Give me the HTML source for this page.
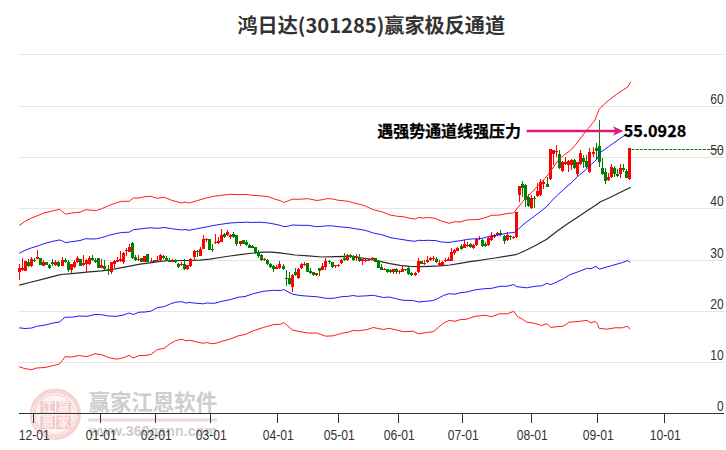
<!DOCTYPE html>
<html lang="zh-CN"><head><meta charset="utf-8"><title>鸿日达(301285)赢家极反通道</title>
<style>
html,body{margin:0;padding:0;background:#fff;}
body{width:726px;height:450px;overflow:hidden;font-family:"Liberation Sans","Noto Sans CJK SC",sans-serif;}
svg{display:block}
.ax{font-family:"Liberation Sans",sans-serif;font-size:14px;fill:#333}
.ttl{font-family:"Noto Sans CJK SC","Liberation Sans",sans-serif;font-weight:bold;font-size:20px;fill:#333}
.ann{font-family:"Noto Sans CJK SC","Liberation Sans",sans-serif;font-weight:bold;font-size:16px;fill:#000;stroke:#000;stroke-width:0.25px}
</style></head><body>
<svg width="726" height="450" viewBox="0 0 726 450">
<rect width="726" height="450" fill="#fff"/>
<text class="ttl" x="237.4" y="33.3" textLength="267.7" lengthAdjust="spacingAndGlyphs">鸿日达(301285)赢家极反通道</text>
<line x1="18" x2="724" y1="54.5" y2="54.5" stroke="#e6e6e6" stroke-width="1" shape-rendering="crispEdges"/>
<line x1="18" x2="724" y1="106.5" y2="106.5" stroke="#e6e6e6" stroke-width="1" shape-rendering="crispEdges"/>
<line x1="18" x2="724" y1="157.5" y2="157.5" stroke="#e6e6e6" stroke-width="1" shape-rendering="crispEdges"/>
<line x1="18" x2="724" y1="208.5" y2="208.5" stroke="#e6e6e6" stroke-width="1" shape-rendering="crispEdges"/>
<line x1="18" x2="724" y1="260.5" y2="260.5" stroke="#e6e6e6" stroke-width="1" shape-rendering="crispEdges"/>
<line x1="18" x2="724" y1="311.5" y2="311.5" stroke="#e6e6e6" stroke-width="1" shape-rendering="crispEdges"/>
<line x1="18" x2="724" y1="362.5" y2="362.5" stroke="#e6e6e6" stroke-width="1" shape-rendering="crispEdges"/>
<g id="wm">
<circle cx="55.3" cy="414.2" r="25.5" fill="#fdf4f4"/>
<circle cx="55.3" cy="414.2" r="24.6" fill="none" stroke="#f4cdcd" stroke-width="1.8"/>
<circle cx="55.6" cy="414" r="22.2" fill="none" stroke="#f6d5d5" stroke-width="2.2"/>
<circle cx="55" cy="414.4" r="19.6" fill="none" stroke="#f8dddd" stroke-width="1.4"/>
<rect x="40.3" y="401.3" width="14.7" height="12" fill="#f4c9c9"/><rect x="56.3" y="401.3" width="14.7" height="12" fill="#f4c9c9"/>
<rect x="40.3" y="415.6" width="14.7" height="13.4" fill="#f4c9c9"/><rect x="56.3" y="415.6" width="14.7" height="13.4" fill="#f4c9c9"/>
<g font-family="'Noto Sans CJK SC',sans-serif" font-weight="bold" font-size="12" fill="#fdf0f0" text-anchor="middle">
<text x="47.7" y="412.2">江</text><text x="63.7" y="412.2">赢</text><text x="47.7" y="427.2">恩</text><text x="63.7" y="427.2">家</text></g>
</g>
<text x="88.5" y="409.6" font-family="'Noto Sans CJK SC',sans-serif" font-weight="bold" font-size="21.4" fill="#d0cccc" textLength="128.6" lengthAdjust="spacingAndGlyphs">赢家江恩软件</text>
<rect x="88" y="418.3" width="129" height="3.2" fill="#ecdcdc"/>
<text x="89" y="435.6" font-family="'Liberation Sans',sans-serif" font-weight="bold" font-size="14" fill="#cccccc" textLength="128" lengthAdjust="spacing">www.360gann.com</text>
<line x1="19" x2="724" y1="413.5" y2="413.5" stroke="#333" stroke-width="1" shape-rendering="crispEdges"/>
<line x1="33.5" x2="33.5" y1="413" y2="423" stroke="#333" stroke-width="1" shape-rendering="crispEdges"/>
<text class="ax" x="18.8" y="440.3" textLength="31" lengthAdjust="spacingAndGlyphs">12-01</text>
<line x1="100.5" x2="100.5" y1="413" y2="423" stroke="#333" stroke-width="1" shape-rendering="crispEdges"/>
<text class="ax" x="85.8" y="440.3" textLength="31" lengthAdjust="spacingAndGlyphs">01-01</text>
<line x1="155.5" x2="155.5" y1="413" y2="423" stroke="#333" stroke-width="1" shape-rendering="crispEdges"/>
<text class="ax" x="140.8" y="440.3" textLength="31" lengthAdjust="spacingAndGlyphs">02-01</text>
<line x1="210.5" x2="210.5" y1="413" y2="423" stroke="#333" stroke-width="1" shape-rendering="crispEdges"/>
<text class="ax" x="195.8" y="440.3" textLength="31" lengthAdjust="spacingAndGlyphs">03-01</text>
<line x1="277.5" x2="277.5" y1="413" y2="423" stroke="#333" stroke-width="1" shape-rendering="crispEdges"/>
<text class="ax" x="262.8" y="440.3" textLength="31" lengthAdjust="spacingAndGlyphs">04-01</text>
<line x1="338.5" x2="338.5" y1="413" y2="423" stroke="#333" stroke-width="1" shape-rendering="crispEdges"/>
<text class="ax" x="323.8" y="440.3" textLength="31" lengthAdjust="spacingAndGlyphs">05-01</text>
<line x1="398.5" x2="398.5" y1="413" y2="423" stroke="#333" stroke-width="1" shape-rendering="crispEdges"/>
<text class="ax" x="383.8" y="440.3" textLength="31" lengthAdjust="spacingAndGlyphs">06-01</text>
<line x1="462.5" x2="462.5" y1="413" y2="423" stroke="#333" stroke-width="1" shape-rendering="crispEdges"/>
<text class="ax" x="447.8" y="440.3" textLength="31" lengthAdjust="spacingAndGlyphs">07-01</text>
<line x1="531.5" x2="531.5" y1="413" y2="423" stroke="#333" stroke-width="1" shape-rendering="crispEdges"/>
<text class="ax" x="516.8" y="440.3" textLength="31" lengthAdjust="spacingAndGlyphs">08-01</text>
<line x1="597.5" x2="597.5" y1="413" y2="423" stroke="#333" stroke-width="1" shape-rendering="crispEdges"/>
<text class="ax" x="582.8" y="440.3" textLength="31" lengthAdjust="spacingAndGlyphs">09-01</text>
<line x1="664.5" x2="664.5" y1="413" y2="423" stroke="#333" stroke-width="1" shape-rendering="crispEdges"/>
<text class="ax" x="649.8" y="440.3" textLength="31" lengthAdjust="spacingAndGlyphs">10-01</text>
<polyline points="19.2,285.2 31.7,282.0 45.0,278.6 58.3,275.2 61.5,274.5 71.7,273.6 86.7,272.2 101.7,270.8 115.0,268.8 128.3,266.3 140.0,264.2 150.0,262.8 160.0,261.3 170.0,260.5 180.0,260.5 190.0,260.5 200.0,260.2 210.0,259.1 220.0,257.5 230.0,256.0 240.0,254.7 253.3,253.0 263.3,252.2 271.7,252.1 281.7,253.2 295.0,255.0 308.3,255.8 321.7,257.0 335.0,256.7 348.3,256.3 358.3,257.5 370.0,259.2 380.0,261.3 390.0,263.7 400.0,265.3 410.0,266.3 420.0,266.7 430.0,266.3 440.0,265.8 450.0,265.0 460.0,263.3 470.0,261.7 478.0,260.6 485.0,259.5 495.0,258.0 505.0,256.3 515.8,254.7 525.0,250.8 535.0,245.8 546.7,239.2 558.3,230.3 568.3,223.3 578.3,216.7 588.3,210.0 596.0,205.0 600.0,202.0 610.0,197.5 620.0,192.5 630.8,187.2" fill="none" stroke="#2a2a2a" stroke-width="1.2" stroke-linejoin="round"/>
<g shape-rendering="crispEdges">
<rect x="19" y="264" width="1" height="16" fill="#ff0000"/>
<rect x="18" y="268" width="3" height="4" fill="#ff0000"/>
<rect x="22" y="258" width="1" height="13" fill="#ff0000"/>
<rect x="21" y="268" width="3" height="2" fill="#ff0000"/>
<rect x="24" y="261" width="3" height="10" fill="#ff0000"/>
<rect x="28" y="259" width="1" height="8" fill="#008000"/>
<rect x="27" y="262" width="3" height="4" fill="#008000"/>
<rect x="31" y="257" width="1" height="10" fill="#ff0000"/>
<rect x="30" y="259" width="3" height="7" fill="#ff0000"/>
<rect x="34" y="258" width="1" height="4" fill="#008000"/>
<rect x="33" y="260" width="3" height="1" fill="#008000"/>
<rect x="37" y="250" width="1" height="9" fill="#ff0000"/>
<rect x="36" y="257" width="3" height="2" fill="#ff0000"/>
<rect x="39" y="258" width="3" height="7" fill="#008000"/>
<rect x="43" y="260" width="1" height="6" fill="#ff0000"/>
<rect x="42" y="262" width="3" height="4" fill="#ff0000"/>
<rect x="45" y="262" width="3" height="3" fill="#008000"/>
<rect x="49" y="264" width="1" height="5" fill="#008000"/>
<rect x="48" y="265" width="3" height="3" fill="#008000"/>
<rect x="52" y="259" width="1" height="7" fill="#008000"/>
<rect x="51" y="262" width="3" height="2" fill="#008000"/>
<rect x="55" y="260" width="1" height="6" fill="#ff0000"/>
<rect x="54" y="262" width="3" height="3" fill="#ff0000"/>
<rect x="58" y="261" width="1" height="6" fill="#008000"/>
<rect x="57" y="262" width="3" height="4" fill="#008000"/>
<rect x="62" y="257" width="1" height="9" fill="#ff0000"/>
<rect x="61" y="260" width="3" height="6" fill="#ff0000"/>
<rect x="65" y="258" width="1" height="5" fill="#008000"/>
<rect x="64" y="260" width="3" height="2" fill="#008000"/>
<rect x="68" y="260" width="1" height="12" fill="#008000"/>
<rect x="67" y="262" width="3" height="8" fill="#008000"/>
<rect x="71" y="264" width="1" height="10" fill="#ff0000"/>
<rect x="70" y="264" width="3" height="6" fill="#ff0000"/>
<rect x="74" y="260" width="1" height="8" fill="#ff0000"/>
<rect x="73" y="262" width="3" height="5" fill="#ff0000"/>
<rect x="77" y="256" width="1" height="7" fill="#ff0000"/>
<rect x="76" y="258" width="3" height="4" fill="#ff0000"/>
<rect x="79" y="259" width="3" height="7" fill="#008000"/>
<rect x="83" y="255" width="1" height="11" fill="#ff0000"/>
<rect x="82" y="263" width="3" height="2" fill="#ff0000"/>
<rect x="86" y="259" width="1" height="13" fill="#ff0000"/>
<rect x="85" y="260" width="3" height="4" fill="#ff0000"/>
<rect x="89" y="256" width="1" height="9" fill="#ff0000"/>
<rect x="88" y="258" width="3" height="6" fill="#ff0000"/>
<rect x="92" y="255" width="1" height="6" fill="#008000"/>
<rect x="91" y="258" width="3" height="2" fill="#008000"/>
<rect x="95" y="258" width="1" height="5" fill="#008000"/>
<rect x="94" y="260" width="3" height="2" fill="#008000"/>
<rect x="97" y="258" width="3" height="10" fill="#008000"/>
<rect x="101" y="259" width="1" height="9" fill="#ff0000"/>
<rect x="100" y="265" width="3" height="3" fill="#ff0000"/>
<rect x="104" y="260" width="1" height="10" fill="#008000"/>
<rect x="103" y="266" width="3" height="3" fill="#008000"/>
<rect x="108" y="265" width="1" height="10" fill="#008000"/>
<rect x="107" y="269" width="3" height="2" fill="#008000"/>
<rect x="111" y="262" width="1" height="12" fill="#ff0000"/>
<rect x="110" y="262" width="3" height="10" fill="#ff0000"/>
<rect x="114" y="260" width="1" height="8" fill="#ff0000"/>
<rect x="113" y="261" width="3" height="3" fill="#ff0000"/>
<rect x="117" y="257" width="1" height="5" fill="#ff0000"/>
<rect x="116" y="260" width="3" height="2" fill="#ff0000"/>
<rect x="120" y="251" width="1" height="11" fill="#ff0000"/>
<rect x="119" y="259" width="3" height="2" fill="#ff0000"/>
<rect x="123" y="252" width="1" height="12" fill="#ff0000"/>
<rect x="122" y="253" width="3" height="9" fill="#ff0000"/>
<rect x="126" y="248" width="1" height="8" fill="#ff0000"/>
<rect x="125" y="250" width="3" height="1" fill="#ff0000"/>
<rect x="129" y="244" width="1" height="8" fill="#ff0000"/>
<rect x="128" y="247" width="3" height="5" fill="#ff0000"/>
<rect x="132" y="242" width="1" height="17" fill="#008000"/>
<rect x="131" y="243" width="3" height="15" fill="#008000"/>
<rect x="135" y="255" width="1" height="6" fill="#008000"/>
<rect x="134" y="257" width="3" height="3" fill="#008000"/>
<rect x="138" y="255" width="1" height="6" fill="#ff0000"/>
<rect x="137" y="259" width="3" height="1" fill="#ff0000"/>
<rect x="140" y="258" width="3" height="4" fill="#008000"/>
<rect x="143" y="256" width="3" height="6" fill="#ff0000"/>
<rect x="146" y="254" width="3" height="8" fill="#008000"/>
<rect x="151" y="258" width="1" height="5" fill="#ff0000"/>
<rect x="150" y="261" width="3" height="1" fill="#ff0000"/>
<rect x="153" y="260" width="3" height="2" fill="#008000"/>
<rect x="157" y="256" width="1" height="6" fill="#ff0000"/>
<rect x="156" y="260" width="3" height="1" fill="#ff0000"/>
<rect x="160" y="254" width="1" height="7" fill="#ff0000"/>
<rect x="159" y="255" width="3" height="5" fill="#ff0000"/>
<rect x="163" y="255" width="1" height="4" fill="#008000"/>
<rect x="162" y="256" width="3" height="2" fill="#008000"/>
<rect x="166" y="256" width="1" height="5" fill="#008000"/>
<rect x="165" y="258" width="3" height="2" fill="#008000"/>
<rect x="169" y="258" width="1" height="4" fill="#008000"/>
<rect x="168" y="260" width="3" height="2" fill="#008000"/>
<rect x="172" y="259" width="1" height="3" fill="#ff0000"/>
<rect x="171" y="260" width="3" height="2" fill="#ff0000"/>
<rect x="175" y="259" width="1" height="4" fill="#008000"/>
<rect x="174" y="260" width="3" height="2" fill="#008000"/>
<rect x="178" y="263" width="1" height="5" fill="#008000"/>
<rect x="177" y="264" width="3" height="3" fill="#008000"/>
<rect x="181" y="262" width="1" height="4" fill="#ff0000"/>
<rect x="180" y="264" width="3" height="1" fill="#ff0000"/>
<rect x="184" y="259" width="1" height="11" fill="#008000"/>
<rect x="183" y="264" width="3" height="5" fill="#008000"/>
<rect x="187" y="265" width="1" height="5" fill="#ff0000"/>
<rect x="186" y="265" width="3" height="4" fill="#ff0000"/>
<rect x="190" y="258" width="1" height="9" fill="#ff0000"/>
<rect x="189" y="259" width="3" height="7" fill="#ff0000"/>
<rect x="194" y="250" width="1" height="11" fill="#ff0000"/>
<rect x="193" y="251" width="3" height="6" fill="#ff0000"/>
<rect x="197" y="250" width="1" height="7" fill="#008000"/>
<rect x="196" y="251" width="3" height="1" fill="#008000"/>
<rect x="200" y="247" width="1" height="9" fill="#ff0000"/>
<rect x="199" y="249" width="3" height="7" fill="#ff0000"/>
<rect x="203" y="235" width="1" height="14" fill="#ff0000"/>
<rect x="202" y="239" width="3" height="10" fill="#ff0000"/>
<rect x="206" y="238" width="1" height="4" fill="#ff0000"/>
<rect x="205" y="239" width="3" height="1" fill="#ff0000"/>
<rect x="208" y="239" width="3" height="11" fill="#008000"/>
<rect x="212" y="244" width="1" height="8" fill="#008000"/>
<rect x="211" y="249" width="3" height="1" fill="#008000"/>
<rect x="215" y="234" width="1" height="10" fill="#ff0000"/>
<rect x="214" y="242" width="3" height="1" fill="#ff0000"/>
<rect x="218" y="237" width="1" height="7" fill="#ff0000"/>
<rect x="217" y="241" width="3" height="2" fill="#ff0000"/>
<rect x="221" y="229" width="1" height="13" fill="#ff0000"/>
<rect x="220" y="235" width="3" height="7" fill="#ff0000"/>
<rect x="224" y="233" width="1" height="5" fill="#008000"/>
<rect x="223" y="234" width="3" height="3" fill="#008000"/>
<rect x="227" y="230" width="1" height="6" fill="#ff0000"/>
<rect x="226" y="232" width="3" height="3" fill="#ff0000"/>
<rect x="230" y="234" width="1" height="5" fill="#ff0000"/>
<rect x="229" y="235" width="3" height="2" fill="#ff0000"/>
<rect x="233" y="232" width="1" height="6" fill="#008000"/>
<rect x="232" y="234" width="3" height="3" fill="#008000"/>
<rect x="236" y="235" width="1" height="11" fill="#008000"/>
<rect x="235" y="235" width="3" height="9" fill="#008000"/>
<rect x="240" y="241" width="1" height="5" fill="#ff0000"/>
<rect x="239" y="241" width="3" height="3" fill="#ff0000"/>
<rect x="242" y="240" width="3" height="4" fill="#008000"/>
<rect x="246" y="240" width="1" height="6" fill="#008000"/>
<rect x="245" y="242" width="3" height="3" fill="#008000"/>
<rect x="249" y="244" width="1" height="4" fill="#008000"/>
<rect x="248" y="245" width="3" height="3" fill="#008000"/>
<rect x="252" y="245" width="1" height="3" fill="#008000"/>
<rect x="251" y="246" width="3" height="2" fill="#008000"/>
<rect x="255" y="247" width="1" height="7" fill="#008000"/>
<rect x="254" y="247" width="3" height="5" fill="#008000"/>
<rect x="258" y="250" width="1" height="8" fill="#008000"/>
<rect x="257" y="252" width="3" height="4" fill="#008000"/>
<rect x="261" y="254" width="1" height="7" fill="#008000"/>
<rect x="260" y="255" width="3" height="5" fill="#008000"/>
<rect x="264" y="258" width="1" height="3" fill="#ff0000"/>
<rect x="263" y="259" width="3" height="1" fill="#ff0000"/>
<rect x="267" y="259" width="1" height="6" fill="#008000"/>
<rect x="266" y="260" width="3" height="4" fill="#008000"/>
<rect x="270" y="263" width="1" height="5" fill="#008000"/>
<rect x="269" y="264" width="3" height="3" fill="#008000"/>
<rect x="273" y="265" width="1" height="7" fill="#008000"/>
<rect x="272" y="266" width="3" height="3" fill="#008000"/>
<rect x="276" y="265" width="1" height="4" fill="#ff0000"/>
<rect x="275" y="267" width="3" height="2" fill="#ff0000"/>
<rect x="279" y="261" width="1" height="8" fill="#ff0000"/>
<rect x="278" y="264" width="3" height="4" fill="#ff0000"/>
<rect x="283" y="264" width="1" height="6" fill="#008000"/>
<rect x="282" y="266" width="3" height="3" fill="#008000"/>
<rect x="286" y="270" width="1" height="16" fill="#008000"/>
<rect x="285" y="278" width="3" height="1" fill="#008000"/>
<rect x="289" y="272" width="1" height="13" fill="#008000"/>
<rect x="288" y="278" width="3" height="6" fill="#008000"/>
<rect x="292" y="274" width="1" height="18" fill="#ff0000"/>
<rect x="291" y="275" width="3" height="12" fill="#ff0000"/>
<rect x="295" y="268" width="1" height="8" fill="#008000"/>
<rect x="294" y="272" width="3" height="3" fill="#008000"/>
<rect x="298" y="268" width="1" height="11" fill="#ff0000"/>
<rect x="297" y="269" width="3" height="9" fill="#ff0000"/>
<rect x="301" y="263" width="1" height="6" fill="#ff0000"/>
<rect x="300" y="264" width="3" height="4" fill="#ff0000"/>
<rect x="304" y="262" width="1" height="4" fill="#ff0000"/>
<rect x="303" y="264" width="3" height="1" fill="#ff0000"/>
<rect x="306" y="263" width="3" height="9" fill="#008000"/>
<rect x="310" y="268" width="1" height="6" fill="#008000"/>
<rect x="309" y="271" width="3" height="2" fill="#008000"/>
<rect x="313" y="272" width="1" height="4" fill="#008000"/>
<rect x="312" y="272" width="3" height="3" fill="#008000"/>
<rect x="316" y="273" width="1" height="3" fill="#ff0000"/>
<rect x="315" y="273" width="3" height="2" fill="#ff0000"/>
<rect x="319" y="268" width="1" height="8" fill="#008000"/>
<rect x="318" y="268" width="3" height="3" fill="#008000"/>
<rect x="322" y="263" width="1" height="7" fill="#ff0000"/>
<rect x="321" y="266" width="3" height="4" fill="#ff0000"/>
<rect x="325" y="258" width="1" height="12" fill="#ff0000"/>
<rect x="324" y="261" width="3" height="6" fill="#ff0000"/>
<rect x="329" y="260" width="1" height="4" fill="#008000"/>
<rect x="328" y="261" width="3" height="1" fill="#008000"/>
<rect x="332" y="262" width="1" height="6" fill="#008000"/>
<rect x="331" y="262" width="3" height="5" fill="#008000"/>
<rect x="335" y="265" width="1" height="3" fill="#ff0000"/>
<rect x="334" y="265" width="3" height="1" fill="#ff0000"/>
<rect x="338" y="264" width="1" height="3" fill="#ff0000"/>
<rect x="337" y="265" width="3" height="1" fill="#ff0000"/>
<rect x="341" y="259" width="1" height="5" fill="#ff0000"/>
<rect x="340" y="260" width="3" height="3" fill="#ff0000"/>
<rect x="344" y="253" width="1" height="8" fill="#008000"/>
<rect x="343" y="258" width="3" height="2" fill="#008000"/>
<rect x="347" y="254" width="1" height="7" fill="#ff0000"/>
<rect x="346" y="255" width="3" height="5" fill="#ff0000"/>
<rect x="350" y="254" width="1" height="4" fill="#008000"/>
<rect x="349" y="255" width="3" height="2" fill="#008000"/>
<rect x="353" y="255" width="1" height="6" fill="#008000"/>
<rect x="352" y="256" width="3" height="4" fill="#008000"/>
<rect x="356" y="254" width="1" height="7" fill="#ff0000"/>
<rect x="355" y="256" width="3" height="2" fill="#ff0000"/>
<rect x="359" y="254" width="1" height="8" fill="#008000"/>
<rect x="358" y="258" width="3" height="3" fill="#008000"/>
<rect x="362" y="259" width="1" height="6" fill="#ff0000"/>
<rect x="361" y="259" width="3" height="2" fill="#ff0000"/>
<rect x="365" y="259" width="1" height="3" fill="#ff0000"/>
<rect x="364" y="260" width="3" height="1" fill="#ff0000"/>
<rect x="368" y="259" width="1" height="2" fill="#ff0000"/>
<rect x="367" y="260" width="3" height="1" fill="#ff0000"/>
<rect x="372" y="257" width="1" height="3" fill="#ff0000"/>
<rect x="371" y="258" width="3" height="2" fill="#ff0000"/>
<rect x="374" y="258" width="3" height="4" fill="#008000"/>
<rect x="378" y="260" width="1" height="8" fill="#008000"/>
<rect x="377" y="261" width="3" height="7" fill="#008000"/>
<rect x="381" y="264" width="1" height="6" fill="#008000"/>
<rect x="380" y="267" width="3" height="3" fill="#008000"/>
<rect x="384" y="268" width="1" height="2" fill="#ff0000"/>
<rect x="383" y="269" width="3" height="1" fill="#ff0000"/>
<rect x="387" y="269" width="1" height="4" fill="#008000"/>
<rect x="386" y="269" width="3" height="3" fill="#008000"/>
<rect x="390" y="269" width="1" height="4" fill="#008000"/>
<rect x="389" y="270" width="3" height="2" fill="#008000"/>
<rect x="393" y="269" width="1" height="5" fill="#ff0000"/>
<rect x="392" y="269" width="3" height="3" fill="#ff0000"/>
<rect x="396" y="268" width="1" height="6" fill="#008000"/>
<rect x="395" y="269" width="3" height="3" fill="#008000"/>
<rect x="399" y="270" width="1" height="4" fill="#ff0000"/>
<rect x="398" y="271" width="3" height="1" fill="#ff0000"/>
<rect x="402" y="265" width="1" height="7" fill="#ff0000"/>
<rect x="401" y="269" width="3" height="3" fill="#ff0000"/>
<rect x="405" y="269" width="1" height="2" fill="#008000"/>
<rect x="404" y="269" width="3" height="1" fill="#008000"/>
<rect x="408" y="267" width="1" height="8" fill="#008000"/>
<rect x="407" y="268" width="3" height="6" fill="#008000"/>
<rect x="411" y="272" width="1" height="4" fill="#008000"/>
<rect x="410" y="273" width="3" height="2" fill="#008000"/>
<rect x="415" y="272" width="1" height="4" fill="#ff0000"/>
<rect x="414" y="273" width="3" height="2" fill="#ff0000"/>
<rect x="418" y="258" width="1" height="15" fill="#ff0000"/>
<rect x="417" y="261" width="3" height="11" fill="#ff0000"/>
<rect x="420" y="261" width="3" height="3" fill="#008000"/>
<rect x="424" y="260" width="1" height="5" fill="#ff0000"/>
<rect x="423" y="263" width="3" height="1" fill="#ff0000"/>
<rect x="427" y="256" width="1" height="7" fill="#ff0000"/>
<rect x="426" y="260" width="3" height="2" fill="#ff0000"/>
<rect x="430" y="257" width="1" height="4" fill="#ff0000"/>
<rect x="429" y="258" width="3" height="2" fill="#ff0000"/>
<rect x="433" y="256" width="1" height="5" fill="#ff0000"/>
<rect x="432" y="258" width="3" height="1" fill="#ff0000"/>
<rect x="436" y="257" width="1" height="6" fill="#008000"/>
<rect x="435" y="259" width="3" height="3" fill="#008000"/>
<rect x="439" y="260" width="1" height="6" fill="#ff0000"/>
<rect x="438" y="263" width="3" height="2" fill="#ff0000"/>
<rect x="442" y="261" width="1" height="5" fill="#ff0000"/>
<rect x="441" y="262" width="3" height="3" fill="#ff0000"/>
<rect x="445" y="258" width="1" height="4" fill="#ff0000"/>
<rect x="444" y="260" width="3" height="1" fill="#ff0000"/>
<rect x="448" y="257" width="1" height="4" fill="#ff0000"/>
<rect x="447" y="259" width="3" height="2" fill="#ff0000"/>
<rect x="451" y="248" width="1" height="13" fill="#ff0000"/>
<rect x="450" y="252" width="3" height="9" fill="#ff0000"/>
<rect x="454" y="249" width="1" height="6" fill="#ff0000"/>
<rect x="453" y="250" width="3" height="3" fill="#ff0000"/>
<rect x="457" y="247" width="1" height="4" fill="#ff0000"/>
<rect x="456" y="248" width="3" height="3" fill="#ff0000"/>
<rect x="461" y="244" width="1" height="6" fill="#008000"/>
<rect x="460" y="246" width="3" height="3" fill="#008000"/>
<rect x="464" y="240" width="1" height="8" fill="#ff0000"/>
<rect x="463" y="244" width="3" height="4" fill="#ff0000"/>
<rect x="467" y="242" width="1" height="5" fill="#ff0000"/>
<rect x="466" y="245" width="3" height="1" fill="#ff0000"/>
<rect x="470" y="243" width="1" height="5" fill="#008000"/>
<rect x="469" y="244" width="3" height="3" fill="#008000"/>
<rect x="473" y="244" width="1" height="5" fill="#ff0000"/>
<rect x="472" y="245" width="3" height="3" fill="#ff0000"/>
<rect x="476" y="238" width="1" height="8" fill="#ff0000"/>
<rect x="475" y="239" width="3" height="6" fill="#ff0000"/>
<rect x="479" y="236" width="1" height="4" fill="#ff0000"/>
<rect x="478" y="238" width="3" height="1" fill="#ff0000"/>
<rect x="482" y="239" width="1" height="8" fill="#008000"/>
<rect x="481" y="240" width="3" height="6" fill="#008000"/>
<rect x="485" y="242" width="1" height="5" fill="#008000"/>
<rect x="484" y="244" width="3" height="2" fill="#008000"/>
<rect x="488" y="237" width="1" height="9" fill="#ff0000"/>
<rect x="487" y="238" width="3" height="7" fill="#ff0000"/>
<rect x="491" y="232" width="1" height="9" fill="#ff0000"/>
<rect x="490" y="236" width="3" height="4" fill="#ff0000"/>
<rect x="494" y="234" width="1" height="4" fill="#ff0000"/>
<rect x="493" y="235" width="3" height="2" fill="#ff0000"/>
<rect x="497" y="232" width="1" height="4" fill="#ff0000"/>
<rect x="496" y="233" width="3" height="2" fill="#ff0000"/>
<rect x="500" y="230" width="1" height="6" fill="#008000"/>
<rect x="499" y="233" width="3" height="2" fill="#008000"/>
<rect x="504" y="235" width="1" height="9" fill="#008000"/>
<rect x="503" y="236" width="3" height="5" fill="#008000"/>
<rect x="507" y="232" width="1" height="9" fill="#ff0000"/>
<rect x="506" y="235" width="3" height="5" fill="#ff0000"/>
<rect x="510" y="235" width="1" height="5" fill="#008000"/>
<rect x="509" y="236" width="3" height="1" fill="#008000"/>
<rect x="513" y="236" width="1" height="3" fill="#ff0000"/>
<rect x="512" y="237" width="3" height="1" fill="#ff0000"/>
<rect x="516" y="212" width="1" height="26" fill="#ff0000"/>
<rect x="515" y="212" width="3" height="25" fill="#ff0000"/>
<rect x="519" y="186" width="1" height="16" fill="#ff0000"/>
<rect x="518" y="186" width="3" height="9" fill="#ff0000"/>
<rect x="522" y="181" width="1" height="16" fill="#008000"/>
<rect x="521" y="184" width="3" height="4" fill="#008000"/>
<rect x="525" y="184" width="1" height="23" fill="#008000"/>
<rect x="524" y="185" width="3" height="15" fill="#008000"/>
<rect x="528" y="194" width="1" height="13" fill="#008000"/>
<rect x="527" y="197" width="3" height="9" fill="#008000"/>
<rect x="531" y="195" width="1" height="14" fill="#ff0000"/>
<rect x="530" y="198" width="3" height="10" fill="#ff0000"/>
<rect x="534" y="196" width="1" height="12" fill="#008000"/>
<rect x="533" y="198" width="3" height="1" fill="#008000"/>
<rect x="537" y="183" width="1" height="14" fill="#ff0000"/>
<rect x="536" y="191" width="3" height="5" fill="#ff0000"/>
<rect x="540" y="179" width="1" height="17" fill="#ff0000"/>
<rect x="539" y="182" width="3" height="13" fill="#ff0000"/>
<rect x="543" y="180" width="1" height="9" fill="#ff0000"/>
<rect x="542" y="182" width="3" height="2" fill="#ff0000"/>
<rect x="547" y="177" width="1" height="10" fill="#008000"/>
<rect x="546" y="184" width="3" height="3" fill="#008000"/>
<rect x="550" y="149" width="1" height="31" fill="#ff0000"/>
<rect x="549" y="149" width="3" height="30" fill="#ff0000"/>
<rect x="553" y="150" width="1" height="15" fill="#ff0000"/>
<rect x="552" y="150" width="3" height="4" fill="#ff0000"/>
<rect x="556" y="145" width="1" height="12" fill="#ff0000"/>
<rect x="555" y="151" width="3" height="1" fill="#ff0000"/>
<rect x="559" y="150" width="1" height="19" fill="#008000"/>
<rect x="558" y="154" width="3" height="14" fill="#008000"/>
<rect x="562" y="161" width="1" height="11" fill="#ff0000"/>
<rect x="561" y="162" width="3" height="9" fill="#ff0000"/>
<rect x="565" y="157" width="1" height="8" fill="#ff0000"/>
<rect x="564" y="162" width="3" height="2" fill="#ff0000"/>
<rect x="568" y="160" width="1" height="12" fill="#ff0000"/>
<rect x="567" y="161" width="3" height="4" fill="#ff0000"/>
<rect x="571" y="159" width="1" height="11" fill="#ff0000"/>
<rect x="570" y="160" width="3" height="5" fill="#ff0000"/>
<rect x="574" y="159" width="1" height="10" fill="#008000"/>
<rect x="573" y="160" width="3" height="8" fill="#008000"/>
<rect x="577" y="162" width="1" height="15" fill="#ff0000"/>
<rect x="576" y="162" width="3" height="12" fill="#ff0000"/>
<rect x="580" y="150" width="1" height="15" fill="#ff0000"/>
<rect x="579" y="153" width="3" height="11" fill="#ff0000"/>
<rect x="583" y="155" width="1" height="13" fill="#008000"/>
<rect x="582" y="158" width="3" height="4" fill="#008000"/>
<rect x="586" y="155" width="1" height="13" fill="#008000"/>
<rect x="585" y="161" width="3" height="6" fill="#008000"/>
<rect x="589" y="148" width="1" height="25" fill="#ff0000"/>
<rect x="588" y="152" width="3" height="20" fill="#ff0000"/>
<rect x="593" y="147" width="1" height="10" fill="#ff0000"/>
<rect x="592" y="152" width="3" height="2" fill="#ff0000"/>
<rect x="596" y="143" width="1" height="17" fill="#008000"/>
<rect x="595" y="148" width="3" height="3" fill="#008000"/>
<rect x="599" y="120" width="1" height="47" fill="#008000"/>
<rect x="598" y="146" width="3" height="16" fill="#008000"/>
<rect x="602" y="158" width="1" height="17" fill="#008000"/>
<rect x="601" y="168" width="3" height="6" fill="#008000"/>
<rect x="605" y="168" width="1" height="16" fill="#008000"/>
<rect x="604" y="172" width="3" height="9" fill="#008000"/>
<rect x="608" y="173" width="1" height="8" fill="#ff0000"/>
<rect x="607" y="177" width="3" height="3" fill="#ff0000"/>
<rect x="611" y="164" width="1" height="14" fill="#ff0000"/>
<rect x="610" y="167" width="3" height="10" fill="#ff0000"/>
<rect x="614" y="166" width="1" height="11" fill="#008000"/>
<rect x="613" y="168" width="3" height="6" fill="#008000"/>
<rect x="617" y="169" width="1" height="8" fill="#008000"/>
<rect x="616" y="174" width="3" height="2" fill="#008000"/>
<rect x="620" y="164" width="1" height="14" fill="#ff0000"/>
<rect x="619" y="168" width="3" height="6" fill="#ff0000"/>
<rect x="623" y="164" width="1" height="8" fill="#008000"/>
<rect x="622" y="168" width="3" height="2" fill="#008000"/>
<rect x="626" y="169" width="1" height="9" fill="#008000"/>
<rect x="625" y="171" width="3" height="7" fill="#008000"/>
<rect x="629" y="148" width="1" height="32" fill="#ff0000"/>
<rect x="628" y="148" width="3" height="31" fill="#ff0000"/>
</g>
<polyline points="19.2,225.5 24.6,221.6 31.4,218.0 36.2,216.2 43.9,213.0 51.6,211.2 59.3,209.3 61.7,210.8 65.3,214.2 71.7,213.0 80.0,212.2 85.8,209.7 91.7,210.3 96.7,210.5 101.7,208.7 108.3,205.8 115.0,203.3 121.7,201.3 129.2,201.3 133.3,198.0 138.3,198.0 145.0,196.7 150.8,196.3 157.5,198.3 164.2,197.2 171.7,200.3 181.7,203.0 185.0,202.0 189.2,203.0 196.7,200.8 205.0,198.3 213.3,196.3 221.7,195.3 230.0,194.3 238.3,194.7 246.7,194.5 251.7,195.3 260.0,195.8 268.3,196.7 275.0,199.2 280.8,200.8 283.7,202.5 288.3,200.8 292.5,199.2 300.0,199.2 308.3,198.7 316.7,200.5 322.5,199.7 326.7,198.7 331.7,198.8 338.3,200.3 348.3,201.3 355.0,203.3 361.7,204.7 366.7,206.7 373.3,209.7 381.7,211.7 390.0,215.0 396.7,216.2 403.3,216.7 410.0,218.3 415.0,219.2 418.3,217.5 423.3,218.0 428.3,217.5 435.0,218.3 441.7,221.2 449.2,223.3 455.0,221.7 460.0,222.0 466.7,220.0 473.3,219.7 478.0,219.5 483.3,218.3 491.7,215.3 500.0,215.0 508.3,213.3 513.7,213.0 515.8,210.0 520.0,205.0 525.0,198.8 531.7,192.6 538.3,185.3 545.0,178.4 550.0,172.2 555.0,164.8 560.0,158.3 565.0,154.2 570.0,150.8 575.0,145.4 581.7,136.7 588.3,128.3 595.0,120.0 599.2,109.2 603.3,105.0 610.0,99.2 616.7,94.2 623.3,89.7 627.5,87.2 630.8,81.7" fill="none" stroke="#ff1a1a" stroke-width="1.0" stroke-linejoin="round"/>
<polyline points="19.2,366.7 25.0,368.7 31.7,369.7 36.7,368.0 45.0,367.5 53.3,365.5 59.2,364.2 62.2,360.8 65.0,356.7 71.7,357.0 79.2,355.5 86.7,356.7 95.0,353.8 101.7,354.7 108.3,357.5 116.7,359.2 123.3,357.8 129.2,355.3 133.3,358.0 139.2,355.5 145.0,355.5 150.8,354.5 157.5,349.5 164.2,348.3 170.8,343.3 175.8,340.5 182.0,339.2 185.8,340.8 190.0,340.3 196.7,342.0 203.3,343.3 206.7,342.5 211.7,343.7 215.8,343.3 221.7,341.3 230.0,339.2 238.3,335.8 245.0,334.5 253.3,330.8 263.3,327.5 273.3,324.7 280.8,324.2 283.7,322.5 292.5,330.0 300.0,331.7 308.3,333.0 316.7,333.0 325.8,336.2 333.3,335.8 341.7,333.3 348.3,332.2 353.3,330.3 357.5,330.8 366.7,329.7 373.3,327.5 383.3,329.5 389.2,328.3 396.7,330.0 403.3,331.7 413.3,331.2 418.3,333.8 426.7,332.5 433.3,331.7 438.3,327.5 443.3,323.3 449.2,320.3 455.0,321.3 460.0,319.7 466.7,319.2 475.0,316.3 485.0,315.3 491.7,316.7 499.2,313.8 507.5,313.8 513.7,311.3 517.5,316.7 522.5,319.2 526.7,322.2 533.3,323.0 541.7,325.5 547.0,323.7 550.8,327.5 556.7,326.7 563.3,326.2 569.2,322.2 578.3,321.5 587.0,320.4 590.3,322.9 595.3,321.4 597.5,324.2 599.2,328.3 606.7,329.2 615.0,327.8 622.5,327.8 627.5,326.2 630.0,329.2" fill="none" stroke="#ff1a1a" stroke-width="1.0" stroke-linejoin="round"/>
<polyline points="19.2,253.3 25.0,250.3 31.7,247.8 38.3,245.8 45.0,243.3 53.3,241.2 59.2,240.0 61.7,240.5 65.5,242.7 71.7,241.7 80.0,240.5 85.8,238.7 91.7,239.0 96.7,238.8 101.7,237.5 108.3,235.5 115.0,233.8 121.7,232.5 129.2,232.2 133.3,229.7 138.3,229.2 145.0,228.3 150.8,227.8 157.5,228.3 164.2,227.5 171.7,228.7 181.7,230.0 185.0,229.5 189.2,230.3 196.7,228.8 205.0,227.2 213.3,225.5 221.7,224.2 230.0,223.0 238.3,222.5 246.7,222.2 251.7,222.5 260.0,222.2 268.3,223.0 275.0,224.2 280.8,225.5 283.7,226.7 288.3,226.2 292.5,225.0 300.0,225.3 308.3,225.3 316.7,226.7 322.5,226.3 326.7,225.8 331.7,225.8 338.3,226.7 348.3,227.5 355.0,228.7 361.7,229.7 366.7,230.8 373.3,233.0 381.7,234.7 390.0,237.5 396.7,238.7 403.3,239.7 410.0,240.8 415.0,241.3 418.3,240.3 423.3,240.5 428.3,240.3 435.0,240.5 441.7,242.0 449.2,242.5 455.0,241.3 460.0,240.8 466.7,239.5 473.3,238.8 478.0,239.0 483.3,238.0 491.7,235.8 500.0,234.7 508.3,233.0 514.2,232.5 518.3,229.2 525.0,223.1 531.7,218.2 538.3,213.2 546.5,206.8 551.7,200.9 557.5,195.0 565.0,188.3 571.7,182.5 578.3,175.8 585.0,170.5 591.7,164.2 596.4,159.8 600.7,152.1 608.3,146.8 616.7,140.9 625.0,135.1 627.0,133.7" fill="none" stroke="#1a1aff" stroke-width="1.0" stroke-linejoin="round"/>
<polyline points="19.2,327.8 25.0,328.5 31.7,328.0 36.7,326.3 45.0,325.0 53.3,323.0 59.2,322.0 62.2,319.7 65.0,317.2 71.7,317.2 79.2,316.0 86.7,316.3 95.0,314.5 101.7,314.7 108.3,316.0 116.7,316.3 123.3,315.0 129.2,313.0 133.3,314.5 139.2,312.2 145.0,312.0 150.8,311.2 157.5,307.5 164.2,306.7 170.8,303.7 175.8,302.2 182.0,301.7 185.8,303.0 190.0,302.5 196.7,303.3 203.3,303.8 206.7,303.0 211.7,303.3 215.8,303.0 221.7,301.3 230.0,299.7 238.3,297.2 245.0,296.5 253.3,293.7 263.3,291.3 273.3,290.3 280.8,290.5 283.7,289.5 292.5,294.2 300.0,295.5 308.3,296.2 316.7,296.7 325.8,298.3 333.3,298.3 341.7,296.7 348.3,296.3 353.3,295.5 357.5,296.3 366.7,295.8 373.3,295.3 383.3,297.5 389.2,297.0 396.7,298.8 403.3,300.3 413.3,300.5 418.3,302.0 426.7,301.2 433.3,300.5 438.3,298.3 443.3,295.5 449.2,293.7 455.0,294.2 460.0,292.8 466.7,292.0 475.0,289.9 483.3,288.8 491.7,288.3 500.0,286.3 507.5,286.2 513.7,284.5 516.7,286.7 526.7,287.8 535.0,286.3 541.7,285.8 547.0,283.3 550.8,284.7 556.7,282.0 563.3,278.8 570.0,274.7 578.3,271.7 587.5,268.2 590.8,268.8 595.8,266.3 599.7,269.2 606.7,267.0 615.0,264.7 622.5,262.5 627.5,260.5 630.3,262.5" fill="none" stroke="#1a1aff" stroke-width="1.0" stroke-linejoin="round"/>
<line x1="631.5" x2="723.5" y1="149.5" y2="149.5" stroke="#0a7a0a" stroke-width="1" stroke-dasharray="3,1.2"/>
<text class="ax" x="710.3" y="104.3" textLength="13.4" lengthAdjust="spacingAndGlyphs">60</text>
<text class="ax" x="710.3" y="155.3" textLength="13.4" lengthAdjust="spacingAndGlyphs">50</text>
<text class="ax" x="710.3" y="206.3" textLength="13.4" lengthAdjust="spacingAndGlyphs">40</text>
<text class="ax" x="710.3" y="258.3" textLength="13.4" lengthAdjust="spacingAndGlyphs">30</text>
<text class="ax" x="710.3" y="309.3" textLength="13.4" lengthAdjust="spacingAndGlyphs">20</text>
<text class="ax" x="710.3" y="360.3" textLength="13.4" lengthAdjust="spacingAndGlyphs">10</text>
<text class="ax" x="717.0" y="411.3" textLength="6.7" lengthAdjust="spacingAndGlyphs">0</text>
<text class="ann" x="377.3" y="137" textLength="143.6" lengthAdjust="spacingAndGlyphs">遇强势通道线强压力</text>
<line x1="526.7" x2="616" y1="131" y2="131" stroke="#e2177a" stroke-width="2.4"/>
<path d="M623.3 131 L613 126.2 L615.6 131 L613 135.8 Z" fill="#e2177a"/>
<text class="ann" x="623.8" y="136.8" textLength="62.4" lengthAdjust="spacingAndGlyphs" style="font-size:16.3px">55.0928</text>
</svg></body></html>
